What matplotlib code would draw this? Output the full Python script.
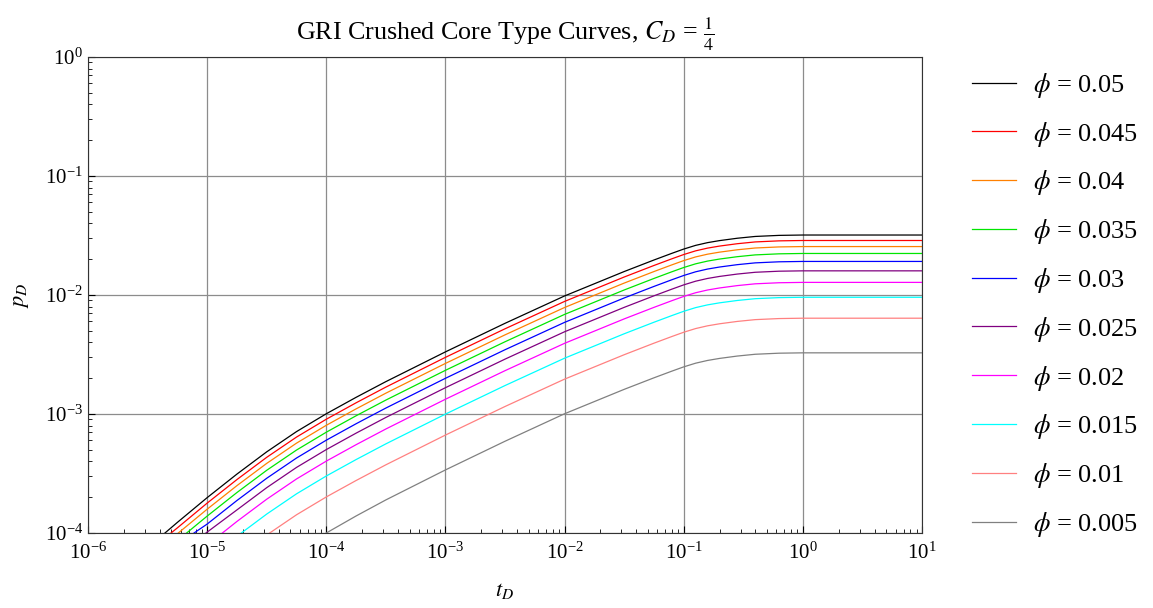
import numpy as np
import matplotlib
matplotlib.use("Agg")
import matplotlib.pyplot as plt

plt.rcParams["font.family"] = ["Liberation Serif", "DejaVu Serif"]
plt.rcParams["mathtext.fontset"] = "stix"

# values, as log10(t_D) and log10(p_D);
# each curve starts where it enters the plot at p_D = 1e-4
phi_labels = ["0.05", "0.045", "0.04", "0.035", "0.03",
              "0.025", "0.02", "0.015", "0.01", "0.005"]
colors = ["#000000", "#ff0000", "#ff8000", "#00e600", "#0000ff",
          "#800080", "#ff00ff", "#00ffff", "#ff8080", "#808080"]

late_t = [-3.0, -2.5, -2.0, -1.5, -1.25, -1.1, -1.0, -0.9, -0.8, -0.7, -0.55, -0.4, -0.2, 0.0, 1.0]

logt_black = [-5.354, -5.25, -5.0, -4.75, -4.5, -4.25, -4.0, -3.75, -3.5] + late_t
logp_black = [-4.0, -3.911, -3.703, -3.505, -3.318, -3.148, -2.998, -2.860, -2.728,
              -2.478, -2.238, -2.008, -1.803, -1.706, -1.650, -1.614, -1.583, -1.560, -1.543,
              -1.523, -1.508, -1.499, -1.496, -1.496]

logt_red = [-5.303, -5.25, -5.0, -4.75, -4.5, -4.25, -4.0, -3.75, -3.5] + late_t
logp_red = [-4.0, -3.957, -3.749, -3.551, -3.364, -3.194, -3.044, -2.906, -2.774,
            -2.524, -2.284, -2.054, -1.849, -1.752, -1.696, -1.660, -1.629, -1.606, -1.589,
            -1.569, -1.554, -1.545, -1.542, -1.542]

logt_orange = [-5.242, -5.0, -4.75, -4.5, -4.25, -4.0, -3.75, -3.5] + late_t
logp_orange = [-4.0, -3.800, -3.602, -3.415, -3.245, -3.095, -2.957, -2.825,
               -2.575, -2.335, -2.105, -1.900, -1.803, -1.747, -1.711, -1.680, -1.657, -1.640,
               -1.620, -1.605, -1.596, -1.593, -1.593]

logt_green = [-5.172, -5.0, -4.75, -4.5, -4.25, -4.0, -3.75, -3.5] + late_t
logp_green = [-4.0, -3.858, -3.660, -3.473, -3.303, -3.153, -3.015, -2.883,
              -2.633, -2.393, -2.163, -1.958, -1.861, -1.805, -1.769, -1.738, -1.715, -1.698,
              -1.678, -1.663, -1.654, -1.651, -1.651]

logt_blue = [-5.11, -5.0, -4.75, -4.5, -4.25, -4.0, -3.75, -3.5] + late_t
logp_blue = [-4.0, -3.925, -3.727, -3.540, -3.370, -3.220, -3.082, -2.950,
             -2.700, -2.460, -2.230, -2.025, -1.928, -1.872, -1.836, -1.805, -1.782, -1.765,
             -1.745, -1.730, -1.721, -1.718, -1.718]

logt_purple = [-5.01, -4.75, -4.5, -4.25, -4.0, -3.75, -3.5] + late_t
logp_purple = [-4.0, -3.806, -3.619, -3.449, -3.299, -3.161, -3.029,
               -2.779, -2.539, -2.309, -2.104, -2.007, -1.951, -1.915, -1.884, -1.861, -1.844,
               -1.824, -1.809, -1.800, -1.797, -1.797]

logt_magenta = [-4.872, -4.75, -4.5, -4.25, -4.0, -3.75, -3.5] + late_t
logp_magenta = [-4.0, -3.903, -3.716, -3.546, -3.396, -3.258, -3.126,
                -2.876, -2.636, -2.406, -2.201, -2.104, -2.048, -2.012, -1.981, -1.958, -1.941,
                -1.921, -1.906, -1.897, -1.894, -1.894]

logt_cyan = [-4.713, -4.5, -4.25, -4.0, -3.75, -3.5] + late_t
logp_cyan = [-4.0, -3.841, -3.671, -3.521, -3.383, -3.251,
             -3.001, -2.761, -2.531, -2.326, -2.229, -2.173, -2.137, -2.106, -2.083, -2.066,
             -2.046, -2.031, -2.022, -2.019, -2.019]

logt_lightred = [-4.475, -4.25, -4.0, -3.75, -3.5] + late_t
logp_lightred = [-4.0, -3.847, -3.697, -3.559, -3.427,
                 -3.177, -2.937, -2.707, -2.502, -2.405, -2.349, -2.313, -2.282, -2.259, -2.242,
                 -2.222, -2.207, -2.198, -2.195, -2.195]

logt_gray = [-4.0, -3.75, -3.5] + late_t
logp_gray = [-4.0, -3.857, -3.722,
             -3.470, -3.229, -2.998, -2.793, -2.696, -2.640, -2.604, -2.573, -2.550, -2.533,
             -2.513, -2.498, -2.489, -2.486, -2.486]

curves = [(logt_black, logp_black), (logt_red, logp_red), (logt_orange, logp_orange),
          (logt_green, logp_green), (logt_blue, logp_blue), (logt_purple, logp_purple),
          (logt_magenta, logp_magenta), (logt_cyan, logp_cyan),
          (logt_lightred, logp_lightred), (logt_gray, logp_gray)]

fig = plt.figure(figsize=(11.53, 6.08), dpi=100)
ax = fig.add_axes([88 / 1153, 1 - 533 / 608, (922 - 88) / 1153, (533 - 57) / 608])

for (lt, lp), c, lab in zip(curves, colors, phi_labels):
    ax.plot(10.0 ** np.array(lt), 10.0 ** np.array(lp), color=c, lw=0.9,
            label=r"$\phi$ = " + lab)

ax.set_xscale("log")
ax.set_yscale("log")
ax.set_xlim(1e-6, 10)
ax.set_ylim(1e-4, 1)
ax.grid(True, which="major", color="#8c8c8c", lw=0.9)
ax.tick_params(which="both", direction="in", top=False, right=False, labelsize=15)
ax.tick_params(axis="x", which="major", pad=7)
ax.tick_params(which="major", length=5, width=0.8)
ax.tick_params(which="minor", length=3, width=0.6)
for s in ax.spines.values():
    s.set_color("#333333")

ax.set_title(r"GRI Crushed Core Type Curves, $C_D$ = $\frac{1}{4}$", fontsize=18.7, pad=12)
ax.set_xlabel(r"$t_D$", fontsize=16, labelpad=12)
ax.set_ylabel(r"$p_D$", fontsize=16, labelpad=10)

ax.legend(loc="upper left", bbox_to_anchor=(1.032, 1.021), frameon=False, fontsize=19,
          handlelength=1.65, handletextpad=0.65, labelspacing=0.75, borderaxespad=0.5)

fig.savefig("out.png", dpi=100)
